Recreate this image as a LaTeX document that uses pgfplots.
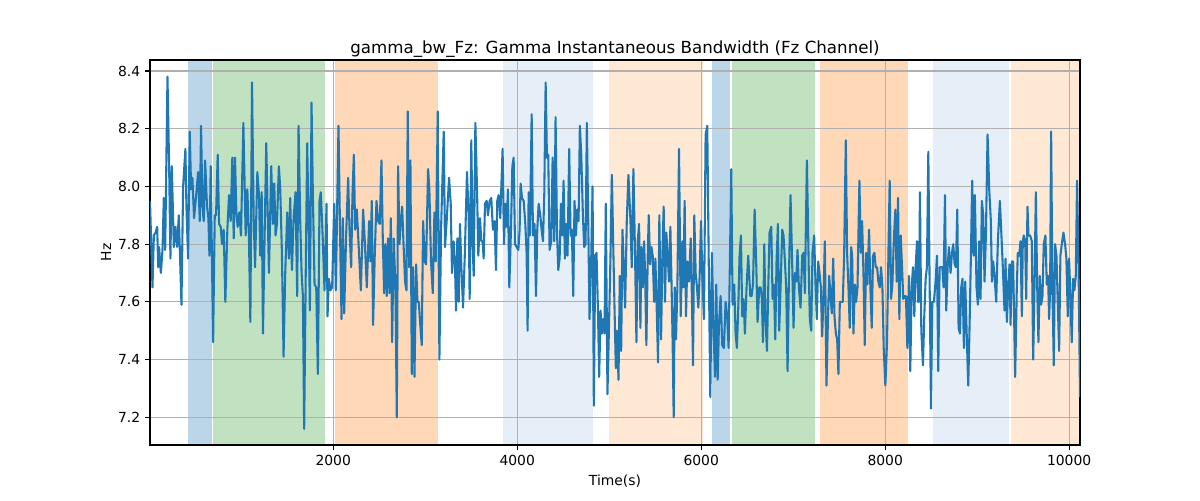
\documentclass[border=0pt]{standalone}
\usepackage{fontspec}
\setmainfont{DejaVu Sans}
\usepackage{pgfplots}
\pgfplotsset{compat=1.18}
\usepackage{pgfplotstable}
\definecolor{tabblue}{HTML}{1F77B4}
\definecolor{spanblue}{RGB}{188,214,233}
\definecolor{spangreen}{RGB}{192,226,192}
\definecolor{spanorange}{RGB}{255,216,183}
\definecolor{spanlblue}{RGB}{230,238,247}
\definecolor{spanlorange}{RGB}{255,233,213}
\definecolor{gridgray}{HTML}{B0B0B0}

\pgfplotstableread{
x y
8 7.95
35 7.65
50 7.83
68 7.84
86 7.86
97 7.72
107 7.79
126 7.70
144 7.78
158 7.96
173 7.78
198 8.38
216 8.07
230 7.75
245 8.07
267 7.79
285 7.86
303 7.79
321 7.90
350 7.59
368 8.00
393 8.13
404 7.93
422 7.75
440 8.19
455 7.99
469 8.03
487 7.89
513 7.98
531 8.05
549 7.88
563 8.21
578 7.93
592 7.88
607 8.09
628 7.93
643 7.89
654 7.76
668 8.07
694 7.46
712 7.90
726 7.90
744 8.11
759 7.87
777 7.86
791 7.80
809 7.85
827 7.60
849 7.85
867 7.97
885 7.88
903 8.10
918 7.82
932 8.10
947 7.91
961 7.86
979 7.91
997 7.83
1023 8.22
1048 7.83
1066 7.99
1084 7.82
1099 7.53
1117 8.36
1135 7.89
1150 7.72
1175 8.05
1193 7.97
1207 7.76
1222 7.98
1236 7.49
1254 7.83
1272 8.15
1301 7.70
1326 8.07
1344 7.87
1359 8.01
1373 7.83
1388 7.87
1409 8.07
1424 7.99
1442 7.77
1460 7.41
1478 7.70
1500 7.91
1518 7.75
1532 7.96
1551 7.71
1569 7.89
1590 7.98
1608 7.62
1623 8.21
1641 7.88
1656 7.70
1670 7.62
1684 7.16
1703 7.76
1717 8.15
1735 7.82
1746 7.57
1764 8.29
1779 7.96
1797 7.66
1815 7.65
1833 7.35
1851 7.95
1865 7.98
1887 7.81
1905 7.64
1927 7.94
1938 7.55
1952 7.68
1970 7.64
1988 7.65
2010 7.94
2028 7.64
2057 8.21
2075 7.82
2090 7.54
2104 7.89
2119 7.56
2140 7.83
2162 8.03
2177 7.85
2195 7.72
2209 7.97
2224 8.11
2238 7.85
2256 7.92
2274 7.81
2300 7.64
2325 7.92
2343 7.81
2365 7.65
2390 7.88
2404 7.74
2419 7.95
2433 7.52
2451 7.76
2470 7.95
2488 7.88
2506 7.87
2524 8.09
2538 7.83
2553 7.63
2567 7.80
2582 7.62
2596 7.82
2611 7.63
2626 7.89
2640 7.46
2658 7.82
2676 7.65
2691 7.20
2705 8.07
2720 7.80
2734 7.88
2749 7.93
2763 7.81
2781 7.67
2796 7.64
2810 8.26
2825 7.72
2839 8.09
2854 7.35
2868 7.72
2883 7.34
2901 7.73
2915 7.60
2930 7.60
2944 7.53
2962 7.45
2977 7.88
2995 7.74
3009 7.73
3031 8.06
3045 7.99
3063 7.74
3082 7.63
3100 7.91
3114 7.74
3136 8.26
3154 7.40
3172 7.85
3201 8.19
3215 7.79
3233 7.88
3259 8.03
3277 7.94
3291 7.70
3309 7.81
3324 7.72
3335 7.57
3349 7.82
3364 7.60
3378 7.87
3393 7.72
3411 7.58
3429 7.75
3454 8.05
3472 7.90
3483 7.61
3501 8.16
3516 7.79
3527 7.69
3545 8.22
3563 7.99
3577 7.76
3595 7.89
3610 7.81
3624 7.81
3635 7.75
3650 7.94
3668 7.95
3682 7.90
3700 7.95
3718 7.96
3736 7.85
3754 7.88
3769 7.71
3783 7.95
3798 7.97
3816 7.89
3841 8.13
3856 7.80
3870 7.94
3885 7.86
3899 7.99
3914 7.65
3932 7.85
3947 8.07
3961 8.10
3976 7.80
3994 7.79
4012 7.78
4026 7.85
4037 8.01
4052 7.96
4070 7.95
4088 7.87
4102 7.77
4113 7.50
4124 7.98
4138 7.83
4157 8.25
4171 7.83
4189 7.87
4204 7.62
4218 7.85
4233 7.94
4251 7.90
4265 7.85
4280 7.81
4294 7.97
4309 8.36
4323 8.10
4337 8.11
4352 7.78
4370 7.81
4385 8.10
4403 7.81
4417 8.24
4432 7.85
4446 7.71
4461 7.75
4475 7.94
4489 7.83
4504 8.02
4518 7.75
4533 7.87
4547 7.76
4565 8.13
4580 7.83
4594 7.85
4609 7.62
4623 7.95
4638 7.83
4652 7.92
4667 7.88
4681 8.21
4696 8.11
4714 7.90
4728 7.79
4743 7.80
4757 8.22
4772 7.88
4786 7.54
4804 7.74
4819 8.00
4833 7.24
4848 7.76
4862 7.77
4877 7.58
4891 7.34
4906 7.57
4920 7.49
4934 7.54
4949 7.49
4963 7.94
4981 7.28
5000 7.55
5014 7.76
5029 8.04
5043 7.81
5057 7.59
5072 7.37
5086 7.50
5101 7.33
5115 7.69
5130 7.43
5144 7.85
5159 7.72
5173 7.58
5191 7.88
5209 8.04
5231 7.88
5245 7.72
5263 8.06
5281 7.76
5296 7.46
5310 7.81
5325 7.87
5339 7.51
5350 7.79
5365 7.65
5379 7.81
5390 7.70
5404 7.45
5419 7.76
5430 7.90
5444 7.73
5459 7.79
5473 7.76
5488 7.60
5502 7.75
5516 7.58
5531 7.39
5545 7.90
5564 7.47
5578 7.76
5592 7.93
5607 7.60
5621 7.84
5636 7.76
5650 7.67
5665 7.86
5679 7.64
5690 7.45
5701 7.20
5712 7.65
5726 7.47
5741 7.65
5759 8.13
5777 7.55
5795 7.81
5806 7.65
5820 7.95
5835 7.55
5849 7.74
5867 7.67
5886 7.82
5900 7.60
5911 7.38
5925 7.90
5940 7.70
5954 7.65
5969 7.58
5983 7.69
5998 7.88
6012 7.69
6030 7.54
6048 8.18
6066 8.21
6085 7.65
6099 7.27
6117 7.77
6132 7.53
6150 7.34
6164 7.66
6179 7.33
6193 7.52
6211 7.62
6229 7.45
6247 7.44
6265 7.60
6283 7.55
6298 7.44
6312 7.74
6327 8.06
6341 7.59
6359 7.66
6374 7.49
6388 7.44
6403 7.58
6417 7.76
6432 7.83
6446 7.55
6461 7.61
6475 7.49
6493 7.65
6511 7.76
6534 7.62
6548 7.62
6563 7.66
6581 7.92
6599 7.72
6613 7.53
6631 7.65
6646 7.65
6660 7.61
6671 7.46
6686 7.80
6700 7.53
6715 7.43
6729 7.65
6743 7.84
6762 7.86
6776 7.61
6791 7.66
6805 7.47
6819 7.74
6834 7.87
6848 7.50
6863 7.65
6881 7.85
6895 7.83
6910 7.74
6924 7.65
6939 7.36
6953 7.67
6971 7.97
6990 7.72
7004 7.51
7018 7.70
7033 7.67
7047 7.78
7062 7.65
7080 7.58
7098 7.76
7113 7.77
7127 7.63
7149 8.09
7170 7.70
7181 7.54
7196 7.50
7210 7.77
7228 7.83
7243 7.66
7257 7.54
7272 7.74
7286 7.70
7301 7.65
7315 7.48
7330 7.62
7344 7.81
7362 7.31
7377 7.53
7391 7.69
7406 7.62
7420 7.56
7435 7.75
7449 7.55
7464 7.49
7478 7.47
7492 7.35
7507 7.60
7521 7.60
7539 7.60
7554 7.76
7572 8.16
7586 7.77
7601 7.65
7615 7.51
7630 7.79
7641 7.76
7655 7.49
7670 7.66
7684 7.60
7699 7.65
7720 8.02
7735 7.77
7749 7.88
7764 7.70
7778 7.45
7793 7.77
7807 7.66
7825 7.85
7839 7.65
7854 7.51
7868 7.76
7883 7.77
7897 7.72
7912 7.72
7926 7.67
7941 7.65
7955 7.72
7970 7.65
7984 7.44
8002 7.31
8020 7.46
8038 7.82
8049 8.02
8064 7.61
8078 7.66
8096 7.83
8111 7.92
8125 7.67
8140 7.96
8154 7.54
8169 7.83
8183 7.72
8197 7.61
8212 7.62
8226 7.62
8241 7.44
8259 7.69
8273 7.36
8288 7.65
8302 7.72
8317 7.55
8331 7.72
8346 7.81
8357 7.60
8368 7.60
8378 7.98
8393 7.50
8411 7.38
8425 7.55
8440 7.68
8454 7.72
8469 8.12
8483 7.67
8498 7.23
8512 7.60
8530 7.60
8548 7.67
8563 7.76
8577 7.36
8592 7.72
8606 7.72
8621 7.72
8635 7.65
8650 7.97
8664 7.57
8679 7.72
8693 7.79
8711 7.70
8726 7.77
8740 7.80
8755 7.73
8769 7.72
8784 7.92
8798 7.51
8813 7.49
8827 7.65
8841 7.68
8856 7.44
8870 7.67
8888 7.47
8903 7.31
8917 7.51
8932 7.76
8946 8.02
8961 7.76
8975 7.97
8993 7.65
9008 7.59
9022 7.81
9037 7.61
9051 7.95
9066 7.90
9080 7.67
9095 7.83
9113 8.18
9131 7.99
9149 7.88
9160 7.67
9174 7.74
9189 7.69
9207 7.60
9225 7.81
9247 7.95
9261 7.85
9279 7.72
9297 7.57
9308 7.75
9323 7.53
9337 7.65
9352 7.73
9363 7.52
9377 7.74
9391 7.74
9413 7.34
9431 7.65
9442 7.77
9457 7.76
9471 7.81
9486 7.55
9496 7.81
9507 7.83
9522 7.81
9533 7.61
9547 7.93
9558 7.83
9576 7.83
9594 7.81
9609 7.40
9623 7.65
9638 7.98
9652 7.66
9666 7.46
9681 7.69
9695 7.59
9710 7.62
9724 7.80
9742 7.83
9757 7.66
9771 7.69
9782 7.54
9793 7.64
9804 8.19
9818 7.65
9833 7.38
9847 7.80
9862 7.76
9876 7.60
9891 7.43
9905 7.76
9920 7.80
9938 7.84
9956 7.80
9970 7.75
9985 7.55
9999 7.75
10014 7.62
10028 7.46
10043 7.68
10057 7.64
10072 7.69
10086 8.02
10101 7.76
10118 7.27
}\datatable

\pgfplotsset{
  common/.style={
    at={(0,0)}, anchor=south west,
    scale only axis, width=669.6pt, height=277.2pt,
    xmin=8, xmax=10118, ymin=7.104, ymax=8.438,
  }
}

\begin{document}
\begin{tikzpicture}
\path[use as bounding box] (-108pt,-39.6pt) rectangle (756pt,320.4pt);
% background spans
\begin{axis}[common, hide axis]
\addplot[draw=none, fill=spanblue] coordinates {(426,8.438) (686,8.438)} \closedcycle;
\addplot[draw=none, fill=spangreen] coordinates {(694,8.438) (1913,8.438)} \closedcycle;
\addplot[draw=none, fill=spanorange] coordinates {(2014,8.438) (3134,8.438)} \closedcycle;
\addplot[draw=none, fill=spanlblue] coordinates {(3845,8.438) (4819,8.438)} \closedcycle;
\addplot[draw=none, fill=spanlorange] coordinates {(4996,8.438) (6016,8.438)} \closedcycle;
\addplot[draw=none, fill=spanblue] coordinates {(6114,8.438) (6309,8.438)} \closedcycle;
\addplot[draw=none, fill=spangreen] coordinates {(6331,8.438) (7232,8.438)} \closedcycle;
\addplot[draw=none, fill=spanorange] coordinates {(7286,8.438) (8252,8.438)} \closedcycle;
\addplot[draw=none, fill=spanlblue] coordinates {(8524,8.438) (9349,8.438)} \closedcycle;
\addplot[draw=none, fill=spanlorange] coordinates {(9370,8.438) (10118,8.438)} \closedcycle;
\end{axis}
% main axis with grid and signal
\begin{axis}[
  common,
  xtick={2000,4000,6000,8000,10000},
  ytick={7.2,7.4,7.6,7.8,8.0,8.2,8.4},
  scaled x ticks=false,
  scaled y ticks=false,
  grid=major,
  major grid style={draw=gridgray, line width=0.8pt},
  tick align=outside, major tick length=3.5pt,
  tick pos=left,
  tick style={black, line width=0.8pt},
  axis line style={black, line width=0.8pt},
  /pgf/number format/assume math mode=true,
  ticklabel style={font=\fontsize{10}{12}\selectfont},
  yticklabel style={/pgf/number format/.cd, fixed, fixed zerofill, precision=1},
  xticklabel style={/pgf/number format/.cd, fixed, precision=0, 1000 sep={}},
  title={gamma\_bw\_Fz: Gamma Instantaneous Bandwidth (Fz Channel)},
  title style={font=\fontsize{12}{14}\selectfont, at={(axis description cs:0.5,1)}, anchor=base, yshift=-1.2pt},
  xlabel={Time(s)},
  ylabel={Hz},
  xlabel style={font=\fontsize{10}{12}\selectfont, at={(axis description cs:0.5,0)}, anchor=base, yshift=-28.8pt},
  ylabel style={font=\fontsize{10}{12}\selectfont, at={(axis description cs:0,0.5)}, anchor=center, yshift=31.7pt},
]
\addplot[tabblue, line width=1.5pt, line join=round] table[x=x, y=y] {\datatable};
\end{axis}
\end{tikzpicture}
\end{document}
